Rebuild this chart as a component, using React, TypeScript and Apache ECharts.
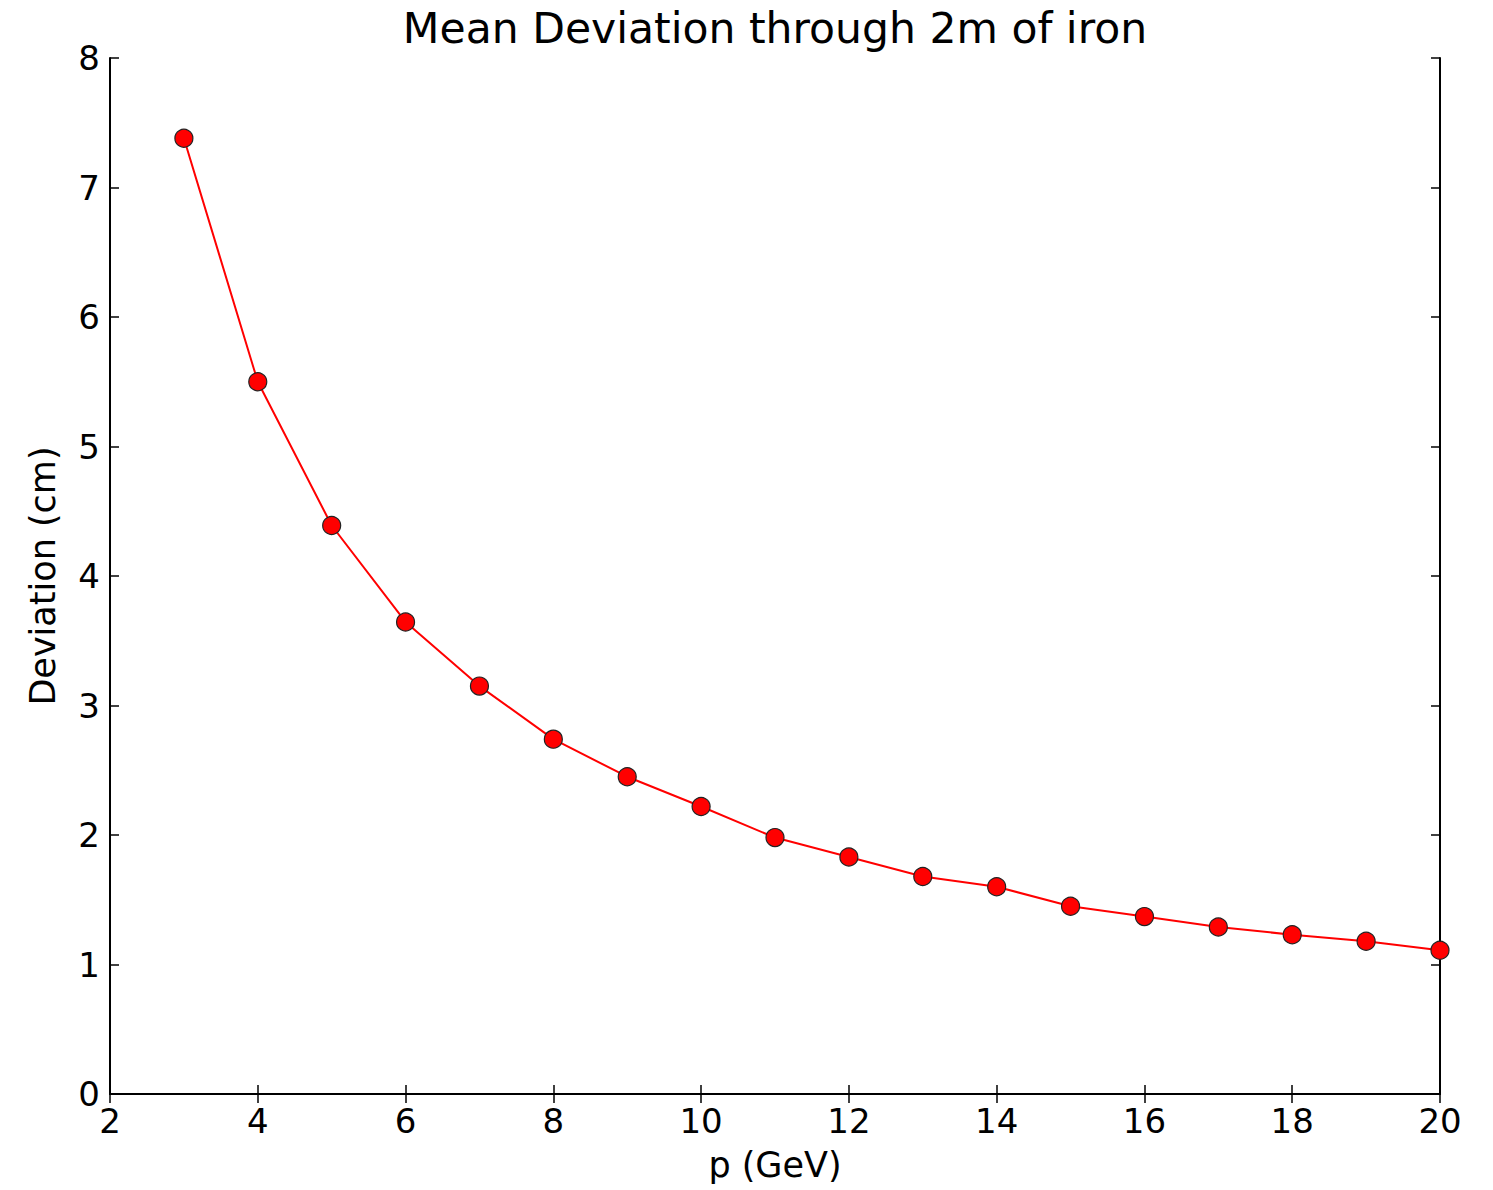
import React, { useEffect, useRef } from "react";
import * as echarts from "echarts";

const pValues = [3, 4, 5, 6, 7, 8, 9, 10, 11, 12, 13, 14, 15, 16, 17, 18, 19, 20];
const deviation = [7.38, 5.5, 4.39, 3.645, 3.15, 2.74, 2.45, 2.22, 1.98, 1.83, 1.68, 1.6, 1.45, 1.37, 1.29, 1.23, 1.18, 1.11];
const titleText = "Mean Deviation through 2m of iron";
const xName = "p (GeV)";
const yName = "Deviation (cm)";

const FONT = "DejaVu Sans";

export default function App() {
  const ref = useRef<HTMLDivElement>(null);
  useEffect(() => {
    document.body.style.margin = "0";
    const chart = echarts.init(ref.current!, null, { renderer: "svg" });
    const axisLine = { show: true, lineStyle: { color: "#000", width: 2 } };
    const tick = { show: true, inside: true, length: 9, lineStyle: { color: "#000", width: 1.5 } };
    chart.setOption({
      animation: false,
      backgroundColor: "#fff",
      grid: { left: 110, right: 53, top: 58, bottom: 96, containLabel: false },
      graphic: [
        {
          type: "text",
          x: 775,
          y: 28,
          style: {
            text: titleText,
            font: `42.5px "${FONT}"`,
            fill: "#000",
            textAlign: "center",
            textVerticalAlign: "middle",
          },
        },
      ],
      xAxis: [
        {
          type: "value",
          min: 2,
          max: 20,
          interval: 2,
          position: "bottom",
          axisLine,
          axisTick: tick,
          splitLine: { show: false },
          axisLabel: { fontFamily: FONT, fontSize: 34, color: "#000", margin: 10 },
          name: xName,
          nameLocation: "middle",
          nameGap: 53,
          nameTextStyle: { fontFamily: FONT, fontSize: 35, color: "#000" },
        },
        {
          type: "value",
          min: 2,
          max: 20,
          interval: 2,
          position: "top",
          axisLine,
          axisTick: tick,
          splitLine: { show: false },
          axisLabel: { show: false },
        },
      ],
      yAxis: [
        {
          type: "value",
          min: 0,
          max: 8,
          interval: 1,
          position: "left",
          axisLine,
          axisTick: tick,
          splitLine: { show: false },
          axisLabel: { fontFamily: FONT, fontSize: 34, color: "#000", margin: 10 },
          name: yName,
          nameLocation: "middle",
          nameGap: 50,
          nameTextStyle: { fontFamily: FONT, fontSize: 35, color: "#000" },
        },
        {
          type: "value",
          min: 0,
          max: 8,
          interval: 1,
          position: "right",
          axisLine,
          axisTick: tick,
          splitLine: { show: false },
          axisLabel: { show: false },
        },
      ],
      series: [
        {
          type: "line",
          data: pValues.map((p, i) => [p, deviation[i]]),
          symbol: "circle",
          symbolSize: 18,
          showAllSymbol: true,
          clip: true,
          lineStyle: { color: "#ff0000", width: 2 },
          itemStyle: { color: "#ff0000", borderColor: "#222", borderWidth: 1.2 },
          z: 3,
        },
      ],
    });
    return () => chart.dispose();
  }, []);
  return (
    <div
      ref={ref}
      style={{ position: "absolute", left: 0, top: 0, width: 1493, height: 1190 }}
    />
  );
}
